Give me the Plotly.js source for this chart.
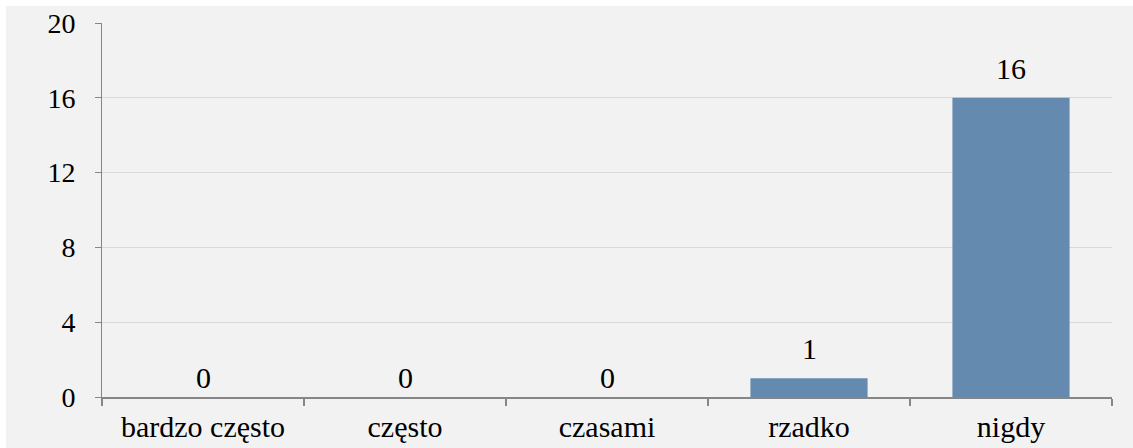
<!DOCTYPE html>
<html><head><meta charset="utf-8">
<script src="https://cdn.plot.ly/plotly-3.0.1.min.js"></script>
<style>html,body{margin:0;padding:0;background:#fff;}#chart{position:absolute;left:6px;top:6px;width:1127px;height:442px;}</style>
</head><body><div id="chart"></div>
<script>
const categories = ["bardzo często", "często", "czasami", "rzadko", "nigdy"];
const values = [0, 0, 0, 1, 16];
const yTicks = [0, 4, 8, 12, 16, 20];

const font = {family: "'Liberation Serif', 'DejaVu Serif', serif", size: 30, color: "#000"};
const yFont = {family: "'Liberation Serif', 'DejaVu Serif', serif", size: 28, color: "#000"};

const trace = {
  type: "bar",
  x: categories,
  y: values,
  marker: {color: "#658aaf", line: {width: 0}},
  hoverinfo: "none"
};

const annotations = categories.map((c, i) => ({
  x: c, y: values[i], xref: "x", yref: "y",
  text: String(values[i]), showarrow: false,
  yanchor: "bottom", yshift: values[i] === 0 ? 1 : 11, font: font
}));

const layout = {
  width: 1127, height: 442,
  paper_bgcolor: "#f2f2f2", plot_bgcolor: "#f2f2f2",
  margin: {l: 96, r: 21, t: 17, b: 51},
  bargap: 0.42,
  showlegend: false,
  font: font,
  xaxis: {
    type: "category", tickson: "boundaries", ticks: "outside", ticklen: 7,
    tickcolor: "#868686", tickwidth: 2,
    showline: true, linecolor: "#868686", linewidth: 2,
    showgrid: false, tickfont: font, ticklabelstandoff: 2, fixedrange: true
  },
  yaxis: {
    range: [0, 20], tickvals: yTicks, ticktext: yTicks.map(String),
    ticks: "outside", ticklen: 6, tickcolor: "#868686", tickwidth: 1,
    showline: true, linecolor: "#868686", linewidth: 1,
    showgrid: true, gridcolor: "#d9d9d9", gridwidth: 1,
    zeroline: false, tickfont: yFont, ticklabelstandoff: 14, fixedrange: true
  },
  annotations: annotations
};

Plotly.newPlot("chart", [trace], layout, {staticPlot: true});
</script></body></html>
